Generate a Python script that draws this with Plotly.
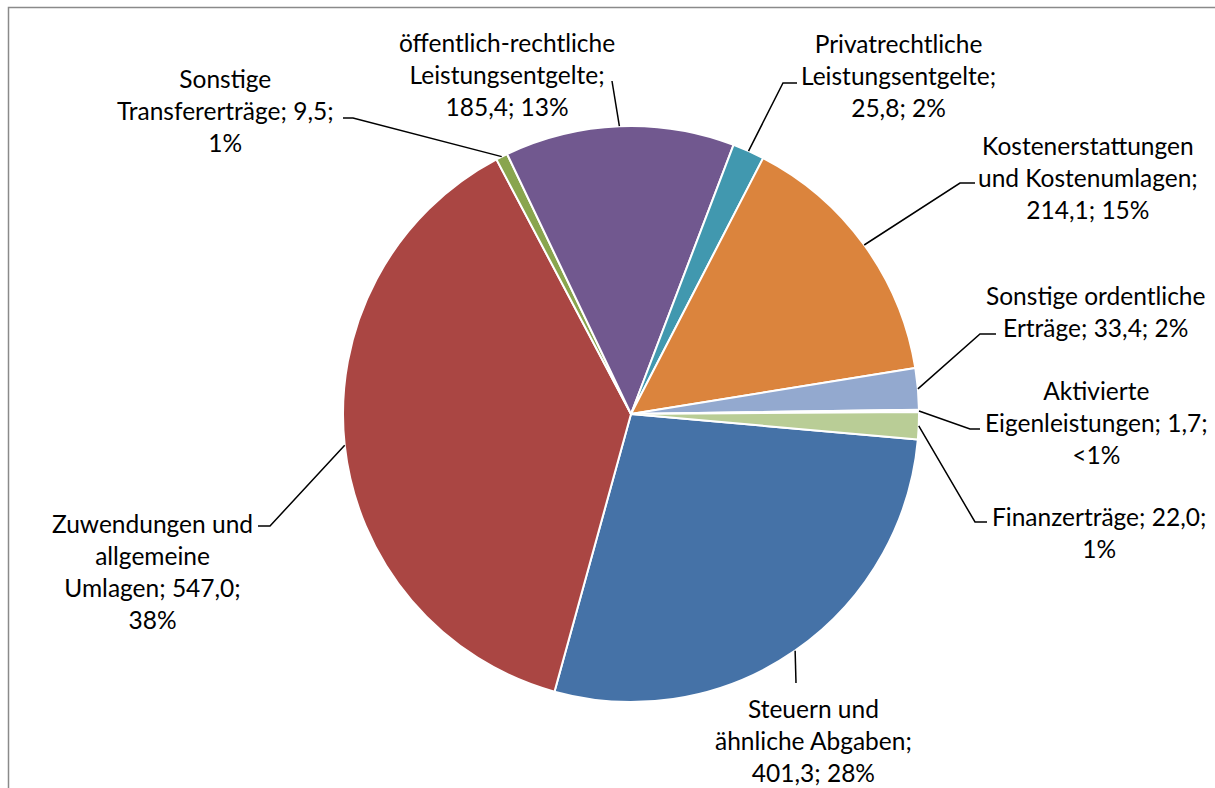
import math
import plotly.graph_objects as go

W, H = 1215, 788

# ---- data ----
categories = [
    "Steuern und ähnliche Abgaben",
    "Zuwendungen und allgemeine Umlagen",
    "Sonstige Transfererträge",
    "öffentlich-rechtliche Leistungsentgelte",
    "Privatrechtliche Leistungsentgelte",
    "Kostenerstattungen und Kostenumlagen",
    "Sonstige ordentliche Erträge",
    "Aktivierte Eigenleistungen",
    "Finanzerträge",
]
values = [401.3, 547.0, 9.5, 185.4, 25.8, 214.1, 33.4, 1.7, 22.0]
value_labels = ["401,3", "547,0", "9,5", "185,4", "25,8", "214,1", "33,4", "1,7", "22,0"]
percent_labels = ["28%", "38%", "1%", "13%", "2%", "15%", "2%", "&lt;1%", "1%"]
display_labels = [
    f"Steuern und<br>ähnliche Abgaben;<br>{value_labels[0]}; {percent_labels[0]}",
    f"Zuwendungen und<br>allgemeine<br>Umlagen; {value_labels[1]};<br>{percent_labels[1]}",
    f"Sonstige<br>Transfererträge; {value_labels[2]};<br>{percent_labels[2]}",
    f"öffentlich-rechtliche<br>Leistungsentgelte;<br>{value_labels[3]}; {percent_labels[3]}",
    f"Privatrechtliche<br>Leistungsentgelte;<br>{value_labels[4]}; {percent_labels[4]}",
    f"Kostenerstattungen<br>und Kostenumlagen;<br>{value_labels[5]}; {percent_labels[5]}",
    f"Sonstige ordentliche<br>Erträge; {value_labels[6]}; {percent_labels[6]}",
    f"Aktivierte<br>Eigenleistungen; {value_labels[7]};<br>{percent_labels[7]}",
    f"Finanzerträge; {value_labels[8]};<br>{percent_labels[8]}",
]
colors = ["#4572A7", "#AA4643", "#89A54E", "#71588F", "#4198AF",
          "#DB843D", "#93A9CF", "#D19392", "#B9CD96"]

# ---- layout geometry (pixels) ----
CX, CY, R = 631, 414, 288
ROTATION = 95.1
# label block centres
label_pos = [(813, 740), (152, 571), (225, 111), (507, 74), (898, 76),
             (1088, 177), (1095, 311), (1096, 422), (1099, 532)]
# leader polyline points after the slice edge point
leader_pts = [
    [(796, 683)],
    [(270, 526), (258, 526)],
    [(353, 118), (343, 118)],
    [(612, 81)],
    [(783, 83), (797, 83)],
    [(960, 183), (975, 183)],
    [(980, 334), (996, 334)],
    [(970, 429), (980, 429)],
    [(975, 522), (987, 522)],
]
FONT = "Lato, 'Open Sans', sans-serif"
FS = 24.5


def px(x, y):
    return x / W, 1 - y / H


fig = go.Figure(go.Pie(
    labels=categories,
    values=values,
    sort=False,
    direction="clockwise",
    rotation=ROTATION,
    marker=dict(colors=colors, line=dict(color="white", width=2)),
    textinfo="none",
    hoverinfo="label+value+percent",
    showlegend=False,
    domain=dict(x=[(CX - R) / W, (CX + R) / W],
                y=[1 - (CY + R) / H, 1 - (CY - R) / H]),
))

total = sum(values)
shapes = []
annotations = []
cum = 0.0
for i, v in enumerate(values):
    mid = math.radians(ROTATION + 360.0 * (cum + v / 2) / total)
    cum += v
    ex, ey = CX + R * math.sin(mid), CY - R * math.cos(mid)
    pts = [(ex, ey)] + leader_pts[i]
    path = "M " + " L ".join(f"{px(x, y)[0]:.5f},{px(x, y)[1]:.5f}" for x, y in pts)
    shapes.append(dict(type="path", xref="paper", yref="paper", path=path,
                       line=dict(color="black", width=1.5)))
    lx, ly = px(*label_pos[i])
    annotations.append(dict(x=lx, y=ly, xref="paper", yref="paper",
                            text=display_labels[i], showarrow=False,
                            xanchor="center", yanchor="middle", align="center",
                            font=dict(family=FONT, size=FS, color="black")))

# chart frame (extends beyond the right/bottom of the picture)
fx0, fy0 = px(8.5, 7.5)
fx1, fy1 = px(1400, 1000)
shapes.append(dict(type="rect", xref="paper", yref="paper",
                   x0=fx0, y0=fy1, x1=fx1, y1=fy0,
                   line=dict(color="#8a8a8a", width=1.5)))

fig.update_layout(
    width=W, height=H,
    margin=dict(l=0, r=0, t=0, b=0),
    paper_bgcolor="white", plot_bgcolor="white",
    shapes=shapes, annotations=annotations,
)

fig.write_html("out.html")
